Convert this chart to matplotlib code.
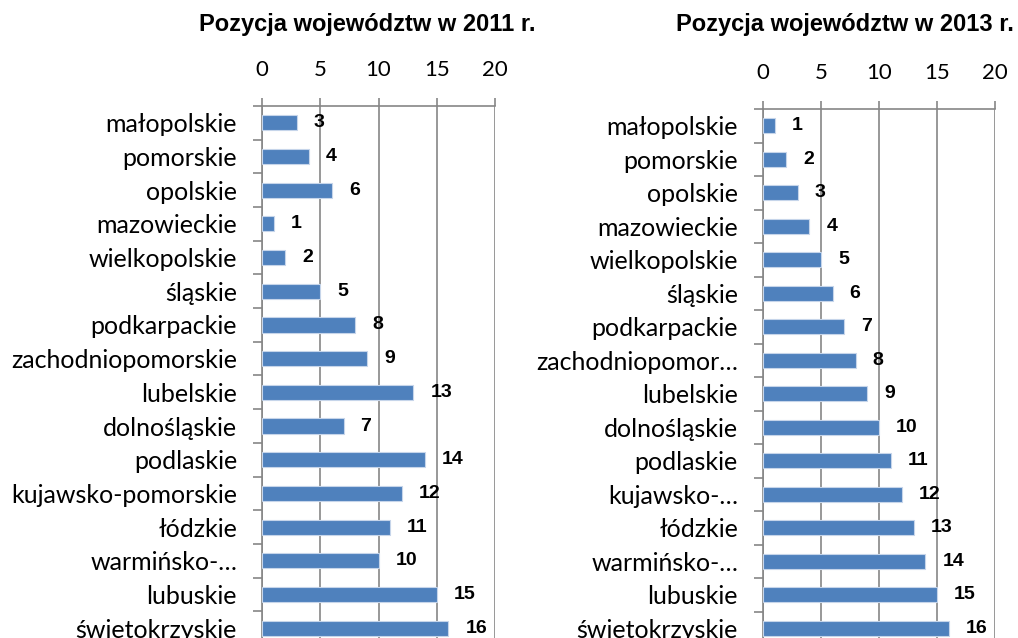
import matplotlib
matplotlib.use("Agg")
import matplotlib.pyplot as plt
from matplotlib.ticker import FixedLocator

labels_2011 = ["małopolskie", "pomorskie", "opolskie", "mazowieckie", "wielkopolskie",
               "śląskie", "podkarpackie", "zachodniopomorskie", "lubelskie", "dolnośląskie",
               "podlaskie", "kujawsko-pomorskie", "łódzkie", "warmińsko-…", "lubuskie",
               "świętokrzyskie"]
values_2011 = [3, 4, 6, 1, 2, 5, 8, 9, 13, 7, 14, 12, 11, 10, 15, 16]

labels_2013 = ["małopolskie", "pomorskie", "opolskie", "mazowieckie", "wielkopolskie",
               "śląskie", "podkarpackie", "zachodniopomor…", "lubelskie", "dolnośląskie",
               "podlaskie", "kujawsko-…", "łódzkie", "warmińsko-…", "lubuskie",
               "świętokrzyskie"]
values_2013 = [1, 2, 3, 4, 5, 6, 7, 8, 9, 10, 11, 12, 13, 14, 15, 16]

x_ticks = [0, 5, 10, 15, 20]

bar_color = "#4F81BD"
grid_color = "#868686"
label_font = ["Lato", "DejaVu Sans"]


def draw(ax, labels, values):
    pos = list(range(len(labels)))
    ax.barh(pos, values, height=0.45, color=bar_color, edgecolor="#C6D5EA", linewidth=0.8, zorder=3)
    ax.set_xlim(0, 20)
    ax.set_ylim(len(labels) - 0.5, -0.5)
    ax.xaxis.tick_top()
    ax.set_xticks(x_ticks)
    ax.set_xticklabels([str(t) for t in x_ticks], family=label_font, fontsize=16)
    ax.set_yticks(pos)
    ax.set_yticklabels(labels, family=label_font, fontsize=18)
    ax.yaxis.set_minor_locator(FixedLocator([p - 0.5 for p in range(len(labels) + 1)]))
    ax.tick_params(axis="y", which="major", length=0, pad=18)
    ax.tick_params(axis="y", which="minor", length=6.5, color=grid_color, width=1.2)
    ax.tick_params(axis="x", length=5.8, color=grid_color, width=1.2, pad=13)
    ax.grid(axis="x", color=grid_color, linewidth=1.2, zorder=0)
    for s in ["right", "bottom"]:
        ax.spines[s].set_visible(False)
    for s in ["left", "top"]:
        ax.spines[s].set_color(grid_color)
        ax.spines[s].set_linewidth(1.2)
    for p, v in zip(pos, values):
        ax.annotate(str(v), (v, p), xytext=(17, 0), textcoords="offset pixels",
                    ha="left", va="center", fontsize=14, fontweight="bold",
                    family="Liberation Sans", color="black")


fig = plt.figure(figsize=(10.18, 6.38), dpi=100)
ax1 = fig.add_axes([0.2574, -0.011, 0.2289, 0.845])
ax2 = fig.add_axes([0.7495, -0.011, 0.2279, 0.840])

draw(ax1, labels_2011, values_2011)
draw(ax2, labels_2013, values_2013)

fig.text(367 / 1018, 1 - 25 / 638, "Pozycja województw w 2011 r.", ha="center", va="center",
         fontsize=17, fontweight="bold", family="Liberation Sans")
fig.text(845 / 1018, 1 - 25 / 638, "Pozycja województw w 2013 r.", ha="center", va="center",
         fontsize=17, fontweight="bold", family="Liberation Sans")

fig.savefig("out.png", dpi=100)
